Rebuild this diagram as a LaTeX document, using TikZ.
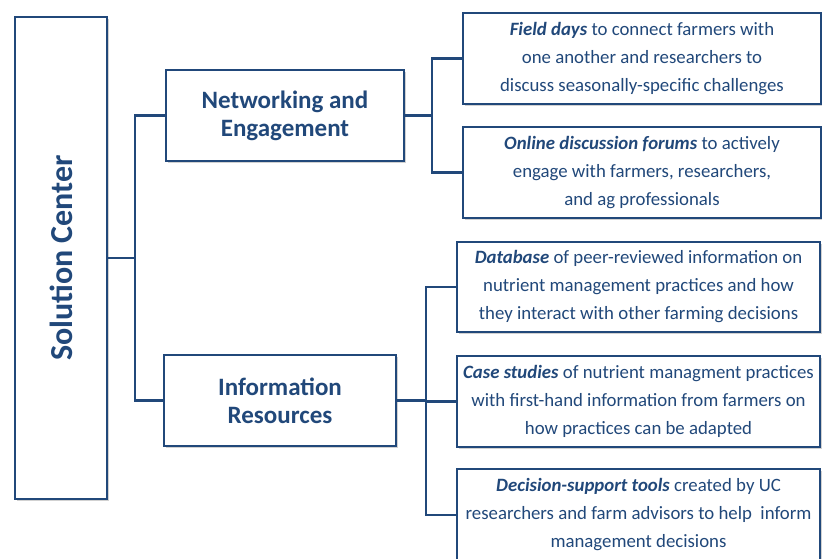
\documentclass[tikz,border=0pt]{standalone}
\usepackage{fontspec}
\setmainfont{Carlito}
\usetikzlibrary{shadows}
\definecolor{solblue}{RGB}{33,72,122}
\tikzset{
	box/.style={draw=solblue, line width=2.4pt, fill=white, text=solblue, align=center, inner sep=0pt,
		drop shadow={shadow xshift=1.5pt, shadow yshift=-2pt, opacity=0.3, fill=black!60}},
	infobox/.style={box, font=\fontsize{18.8}{28}\selectfont},
	headbox/.style={box, font=\bfseries\fontsize{25}{28}\selectfont},
	link/.style={draw=solblue, line width=2.8pt}
}
\newcommand{\lead}[1]{\textbf{\textit{#1}}}

\begin{document}
\begin{tikzpicture}[x=1pt, y=-1pt]
		%%%%% START %%%%%
		\useasboundingbox (0,0) rectangle (822,559);
		\clip (0,0) rectangle (822,559);
		
		\node[headbox, font=\bfseries\fontsize{32}{34}\selectfont, rotate=90, minimum width=482, minimum height=92] (sol) at (61,258) {Solution Center};
		
		\node[headbox, minimum width=238, minimum height=91] (net) at (285,115.5) {Networking and\\Engagement};
		\node[headbox, minimum width=232, minimum height=91] (info) at (280,400.5) {Information\\Resources};
		
		\node[infobox, minimum width=358, minimum height=91] (field) at (642,58.5) {\lead{Field days} to connect farmers with\\one another and researchers to\\discuss seasonally-specific challenges};
		\node[infobox, minimum width=358, minimum height=91] (online) at (642,172.5) {\lead{Online discussion forums} to actively\\engage with farmers, researchers,\\and ag professionals};
		
		\node[infobox, minimum width=363, minimum height=90] (db) at (638.5,287) {\lead{Database} of peer-reviewed information on\\nutrient management practices and how\\they interact with other farming decisions};
		\node[infobox, minimum width=363, minimum height=91] (case) at (638.5,401.5) {\lead{Case studies} of nutrient managment practices\\with first-hand information from farmers on\\how practices can be adapted};
		\node[infobox, minimum width=363, minimum height=92] (dec) at (638.5,515) {\lead{Decision-support tools} created by UC\\researchers and farm advisors to help~ inform\\management decisions};
		
		\coordinate (trunk) at (135,258);
		\coordinate (netfork) at (432,115.5);
		\coordinate (infofork) at (426,400.5);
		
		\draw[link] (sol.south) -- (trunk);
		\draw[link] (net.west) -| (trunk) |- (info.west);
		
		\draw[link] (net.east) -- (netfork);
		\draw[link] (field.west) -| (netfork) |- (online.west);
		
		\draw[link] (info.east) -- (infofork);
		\draw[link] (db.west) -| (infofork) |- (dec.west);
		\draw[link] (case.west) -- (case.west -| infofork);
		%%%%% END %%%%%
	\end{tikzpicture}
\end{document}
